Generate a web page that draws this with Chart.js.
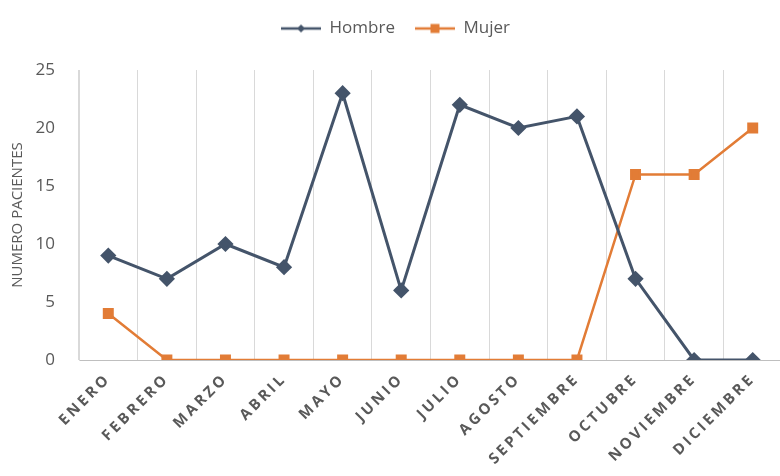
<!DOCTYPE html>
<html>
<head>
<meta charset="utf-8">
<script src="https://cdn.jsdelivr.net/npm/chart.js@4.4.0/dist/chart.umd.min.js"></script>
<style>
  html, body { margin: 0; padding: 0; background: #fff; overflow: hidden; }
  #wrap { width: 780px; height: 476px; overflow: hidden; }
</style>
</head>
<body>
<div id="wrap"><canvas id="chart" width="791" height="476"></canvas></div>
<script>
// Pacientes por mes
const meses = ['ENERO', 'FEBRERO', 'MARZO', 'ABRIL', 'MAYO', 'JUNIO', 'JULIO',
    'AGOSTO', 'SEPTIEMBRE', 'OCTUBRE', 'NOVIEMBRE', 'DICIEMBRE'];
const hombre = [9, 7, 10, 8, 23, 6, 22, 20, 21, 7, 0, 0];
const mujer = [4, 0, 0, 0, 0, 0, 0, 0, 0, 16, 16, 20];

const colHombre = '#44546A';
const colMujer = '#E27C36';
const textCol = '#595959';

// icono legenda: linea con marcador
function legendIcon(color, shape) {
    const c = document.createElement('canvas');
    c.width = 40; c.height = 14;
    const g = c.getContext('2d');
    g.strokeStyle = color;
    g.lineWidth = 2.5;
    g.beginPath();
    g.moveTo(0, 7); g.lineTo(40, 7);
    g.stroke();
    g.fillStyle = color;
    if (shape === 'diamond') {
        g.beginPath();
        g.moveTo(20, 3); g.lineTo(24, 7); g.lineTo(20, 11); g.lineTo(16, 7);
        g.closePath(); g.fill();
    } else {
        g.fillRect(15.5, 2.5, 9, 9);
    }
    return c;
}

const icons = [legendIcon(colHombre, 'diamond'), legendIcon(colMujer, 'square')];

// espacio extra debajo de la legenda
const legendSpace = {
    id: 'legendSpace',
    afterInit(chart) {
        const orig = chart.legend.fit;
        chart.legend.fit = function () {
            orig.call(this);
            this.height += 23;
        };
    }
};

new Chart(document.getElementById('chart'), {
    type: 'line',
    data: {
        labels: meses,
        datasets: [{
            label: 'Hombre',
            data: hombre,
            borderColor: colHombre,
            backgroundColor: colHombre,
            borderWidth: 3,
            pointStyle: 'rectRot',
            pointRadius: 6,
            pointHoverRadius: 6,
            tension: 0
        }, {
            label: 'Mujer',
            data: mujer,
            borderColor: colMujer,
            backgroundColor: colMujer,
            borderWidth: 2.5,
            pointStyle: 'rect',
            pointRadius: 6,
            pointHoverRadius: 6,
            tension: 0
        }]
    },
    plugins: [legendSpace],
    options: {
        responsive: false,
        animation: false,
        layout: { padding: { top: 0, right: 0, left: 0, bottom: 0 } },
        plugins: {
            legend: {
                position: 'top',
                labels: {
                    usePointStyle: true,
                    pointStyleWidth: 40,
                    padding: 20,
                    color: textCol,
                    font: { family: 'Open Sans', size: 17 },
                    generateLabels: (chart) => chart.data.datasets.map((ds, i) => ({
                        text: ds.label,
                        fillStyle: ds.borderColor,
                        strokeStyle: ds.borderColor,
                        fontColor: textCol,
                        pointStyle: icons[i],
                        datasetIndex: i,
                        hidden: false
                    }))
                }
            },
            tooltip: { enabled: false }
        },
        scales: {
            x: {
                offset: true,
                grid: {
                    offset: true,
                    color: '#d9d9d9',
                    drawTicks: false
                },
                border: { color: '#bfbfbf' },
                ticks: {
                    minRotation: 45,
                    maxRotation: 45,
                    padding: 10,
                    color: textCol,
                    font: { family: 'Open Sans', size: 15, weight: 'bold' }
                },
                afterFit: (scale) => {
                    scale.height = 116;
                    // etiquetas espaciadas como en el original
                    if (!scale._spaced) {
                        const draw = scale.drawLabels;
                        scale.drawLabels = function (area) {
                            this.ctx.save();
                            this.ctx.letterSpacing = '3px';
                            draw.call(this, area);
                            this.ctx.restore();
                        };
                        scale._spaced = true;
                    }
                }
            },
            y: {
                min: 0,
                max: 25,
                ticks: {
                    stepSize: 5,
                    padding: 16,
                    color: textCol,
                    font: { family: 'Open Sans', size: 17 }
                },
                grid: { display: false },
                border: { color: '#d9d9d9' },
                title: {
                    display: true,
                    text: 'NUMERO PACIENTES',
                    color: textCol,
                    padding: { top: 9, bottom: 0 },
                    font: { family: 'Open Sans', size: 15 }
                },
                afterFit: (scale) => { scale.width = 79; }
            }
        }
    }
});
</script>
</body>
</html>
